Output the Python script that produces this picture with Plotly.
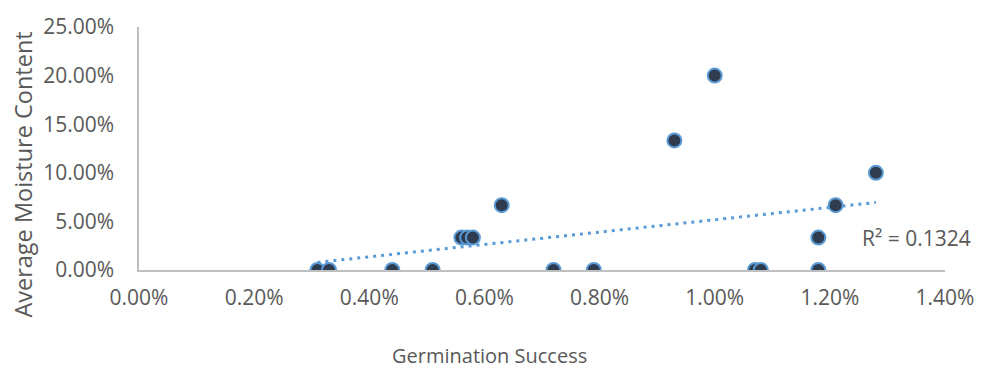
import numpy as np
import plotly.graph_objects as go

# Germination success (fraction) vs. average moisture content (fraction)
germination = [0.0031, 0.0033, 0.0044, 0.0051, 0.0056, 0.0057, 0.0058, 0.0063, 0.0072,
               0.0079, 0.0093, 0.0100, 0.0107, 0.0108, 0.0118, 0.0118, 0.0121, 0.0128]
moisture = [0.0, 0.0, 0.0, 0.0, 1/30, 1/30, 1/30, 2/30, 0.0,
            0.0, 4/30, 6/30, 0.0, 0.0, 1/30, 0.0, 2/30, 3/30]

x_ticks = [0.0, 0.002, 0.004, 0.006, 0.008, 0.010, 0.012, 0.014]
y_ticks = [0.0, 0.05, 0.10, 0.15, 0.20, 0.25]
r2_label = "R² = 0.1324"

FONT = "Open Sans"
GRAY = "#595959"
AXIS = "#bfbfbf"

# linear trendline fitted over the data range
xs = np.array(germination)
ys = np.array(moisture)
slope, intercept = np.polyfit(xs, ys, 1)
tx = np.array([xs.min(), xs.max()])
ty = slope * tx + intercept

fig = go.Figure()
fig.add_trace(go.Scatter(
    x=tx, y=ty, mode="lines",
    line=dict(color="#5b9bd5", width=3, dash="3px,5px"),
    hoverinfo="skip", showlegend=False,
))
fig.add_trace(go.Scatter(
    x=germination, y=moisture, mode="markers",
    marker=dict(size=14, color="#2f3b4f", line=dict(color="#5b9bd5", width=2)),
    showlegend=False,
))

fig.add_annotation(
    x=0.01252, y=1/30, xref="x", yref="y", text=r2_label, showarrow=False,
    xanchor="left", yanchor="middle", font=dict(family=FONT, size=21, color=GRAY),
)
fig.add_annotation(
    x=492, y=358, text="Germination Success",
    showarrow=False, xanchor="center", yanchor="middle",
    font=dict(family=FONT, size=20, color=GRAY),
)
fig.add_annotation(
    x=22, y=172, text="Average Moisture Content", showarrow=False, textangle=-90,
    xanchor="center", yanchor="middle", font=dict(family=FONT, size=23.5, color=GRAY),
)

W, H = 986, 375
L, R, T, B = 139, 35, 20, 105
pw, ph = W - L - R, H - T - B


def to_paper(px, py):
    return (px - L) / pw, 1 - (py - T) / ph


# axis titles are positioned in pixels, converted to paper coordinates
for ann in fig.layout.annotations[1:]:
    ann.x, ann.y = to_paper(ann.x, ann.y)
    ann.xref, ann.yref = "paper", "paper"

fig.update_layout(
    width=W, height=H,
    margin=dict(l=L, r=R, t=T, b=B, pad=0),
    paper_bgcolor="white", plot_bgcolor="white",
    font=dict(family=FONT, size=21, color=GRAY),
    xaxis=dict(
        range=[0, 0.014], tickvals=x_ticks, tickformat=".2%",
        showgrid=False, zeroline=False, showline=True, linecolor=AXIS, linewidth=1.5,
        ticks="", ticklabelstandoff=8,
        tickfont=dict(family=FONT, size=21, color=GRAY),
    ),
    yaxis=dict(
        range=[0, 0.25], tickvals=y_ticks, tickformat=".2%",
        showgrid=False, zeroline=False, showline=True, linecolor=AXIS, linewidth=1.5,
        ticks="", ticklabelstandoff=19,
        tickfont=dict(family=FONT, size=21, color=GRAY),
    ),
)

fig.write_html("out.html")
